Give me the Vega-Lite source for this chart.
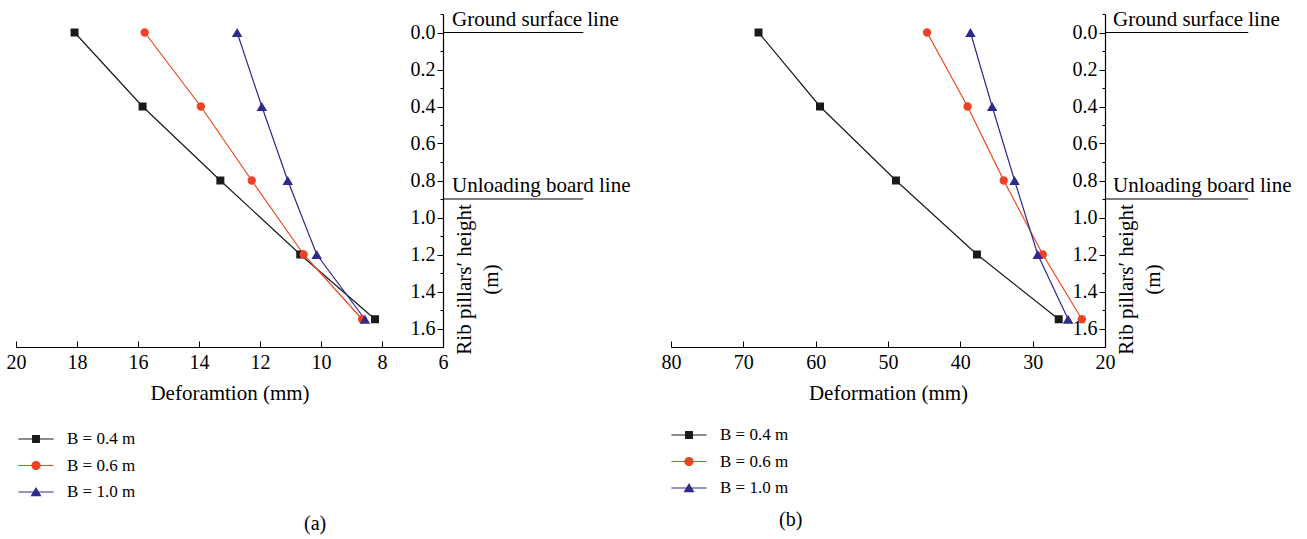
{
  "$schema": "https://vega.github.io/schema/vega-lite/v6.json",
  "padding": {"left": 6, "top": 8, "right": 5, "bottom": 5},
  "bounds": "flush",
  "spacing": 228,
  "background": "white",
  "datasets": {
    "a": [
      {"series": "B = 0.4 m", "d": 18.08, "h": 0},
      {"series": "B = 0.4 m", "d": 15.85, "h": 0.4},
      {"series": "B = 0.4 m", "d": 13.3, "h": 0.8},
      {"series": "B = 0.4 m", "d": 10.68, "h": 1.2},
      {"series": "B = 0.4 m", "d": 8.23, "h": 1.55},
      {"series": "B = 0.6 m", "d": 15.78, "h": 0},
      {"series": "B = 0.6 m", "d": 13.94, "h": 0.4},
      {"series": "B = 0.6 m", "d": 12.27, "h": 0.8},
      {"series": "B = 0.6 m", "d": 10.57, "h": 1.2},
      {"series": "B = 0.6 m", "d": 8.65, "h": 1.55},
      {"series": "B = 1.0 m", "d": 12.75, "h": 0},
      {"series": "B = 1.0 m", "d": 11.94, "h": 0.4},
      {"series": "B = 1.0 m", "d": 11.09, "h": 0.8},
      {"series": "B = 1.0 m", "d": 10.14, "h": 1.2},
      {"series": "B = 1.0 m", "d": 8.56, "h": 1.55}
    ],
    "b": [
      {"series": "B = 0.4 m", "d": 67.9, "h": 0},
      {"series": "B = 0.4 m", "d": 59.4, "h": 0.4},
      {"series": "B = 0.4 m", "d": 48.9, "h": 0.8},
      {"series": "B = 0.4 m", "d": 37.7, "h": 1.2},
      {"series": "B = 0.4 m", "d": 26.4, "h": 1.55},
      {"series": "B = 0.6 m", "d": 44.6, "h": 0},
      {"series": "B = 0.6 m", "d": 39.0, "h": 0.4},
      {"series": "B = 0.6 m", "d": 34.0, "h": 0.8},
      {"series": "B = 0.6 m", "d": 28.6, "h": 1.2},
      {"series": "B = 0.6 m", "d": 23.2, "h": 1.55},
      {"series": "B = 1.0 m", "d": 38.6, "h": 0},
      {"series": "B = 1.0 m", "d": 35.6, "h": 0.4},
      {"series": "B = 1.0 m", "d": 32.5, "h": 0.8},
      {"series": "B = 1.0 m", "d": 29.3, "h": 1.2},
      {"series": "B = 1.0 m", "d": 25.1, "h": 1.55}
    ],
    "refs": [
      {"label": "Ground surface line", "h": 0},
      {"label": "Unloading board line", "h": 0.9}
    ]
  },
  "resolve": {
    "scale": {"color": "independent", "shape": "independent"},
    "legend": {"color": "independent", "shape": "independent"}
  },
  "hconcat": [
    {
      "width": 427,
      "height": 333,
      "title": {"text": "(a)", "orient": "bottom", "anchor": "start", "dx": 298, "offset": 14, "font": "Liberation Serif", "fontSize": 20, "fontWeight": "normal", "color": "black"},
      "encoding": {
        "y": {
          "field": "h", "type": "quantitative",
          "scale": {"domain": [-0.1, 1.7], "reverse": true, "nice": false, "zero": false},
          "axis": {
            "orient": "left", "offset": -427,
            "values": [-0.1, 0, 0.1, 0.2, 0.3, 0.4, 0.5, 0.6, 0.7, 0.8, 0.9, 1.0, 1.1, 1.2, 1.3, 1.4, 1.5, 1.6, 1.7],
            "labelExpr": "(round(datum.value*10) % 2 === 0 && datum.value >= 0 && datum.value < 1.65) ? format(datum.value, '.1f') : ''",
            "tickSize": {"condition": {"test": "round(datum.value*10) % 2 === 0", "value": 6}, "value": 3},
            "title": ["Rib pillars\u2032 height", "(m)"],
            "titleAngle": 270, "titleX": 21, "titleY": 265, "titleAlign": "center", "titleBaseline": "middle", "titleLineHeight": 27
          }
        }
      },
      "layer": [
        {
          "data": {"name": "a"},
          "mark": {"type": "line", "strokeWidth": 1.2},
          "encoding": {
            "x": {
              "field": "d", "type": "quantitative",
              "scale": {"domain": [6, 20], "reverse": true, "nice": false, "zero": false},
              "axis": {
                "values": [6, 7, 8, 9, 10, 11, 12, 13, 14, 15, 16, 17, 18, 19, 20],
                "labelExpr": "datum.value % 2 === 0 ? datum.label : ''",
                "labelFlush": false,
                "tickSize": {"condition": {"test": "datum.value % 2 === 0", "value": -6}, "value": -3},
                "labelPadding": 11,
                "title": "Deforamtion (mm)", "titlePadding": 10
              }
            },
            "order": {"field": "h"},
            "color": {
              "field": "series", "type": "nominal",
              "scale": {"domain": ["B = 0.4 m", "B = 0.6 m", "B = 1.0 m"], "range": ["#1a1a1a", "#ef4224", "#2e2a8e"]},
              "legend": {
                "title": null, "orient": "none", "legendX": 9, "legendY": 414, "padding": 0,
                "symbolSize": 484, "symbolOpacity": 1, "symbolStrokeWidth": 0, "labelOffset": 20, "rowPadding": 7.5,
                "labelFont": "Liberation Serif", "labelFontSize": 17, "labelColor": "black"
              }
            }
          }
        },
        {
          "data": {"name": "a"},
          "mark": {"type": "point", "filled": true, "opacity": 0},
          "encoding": {
            "x": {"field": "d", "type": "quantitative"},
            "color": {
              "field": "series", "type": "nominal",
              "legend": {
                "title": null, "orient": "none", "legendX": 9, "legendY": 414, "padding": 0,
                "symbolSize": 484, "symbolOpacity": 1, "symbolStrokeWidth": 0, "labelOffset": 20, "rowPadding": 7.5,
                "labelFont": "Liberation Serif", "labelFontSize": 17, "labelColor": "black"
              }
            },
            "shape": {
              "field": "series", "type": "nominal",
              "scale": {"domain": ["B = 0.4 m", "B = 0.6 m", "B = 1.0 m"], "range": [
                "M-1.6,-0.055L1.6,-0.055L1.6,0.055L-1.6,0.055Z M-0.36,-0.36L0.36,-0.36L0.36,0.36L-0.36,0.36Z",
                "M-1.6,-0.055L1.6,-0.055L1.6,0.055L-1.6,0.055Z M-0.42,0A0.42,0.42 0 1,1 0.42,0A0.42,0.42 0 1,1 -0.42,0Z",
                "M-1.6,-0.055L1.6,-0.055L1.6,0.055L-1.6,0.055Z M0,-0.45L0.5,0.38L-0.5,0.38Z"
              ]},
              "legend": {
                "title": null, "orient": "none", "legendX": 9, "legendY": 414, "padding": 0,
                "symbolSize": 484, "symbolOpacity": 1, "symbolStrokeWidth": 0, "labelOffset": 20, "rowPadding": 7.5,
                "labelFont": "Liberation Serif", "labelFontSize": 17, "labelColor": "black"
              }
            }
          }
        },
        {
          "data": {"name": "a"},
          "transform": [{"filter": "datum.series === 'B = 0.4 m'"}],
          "mark": {"type": "point", "shape": "square", "filled": true, "opacity": 1, "size": 64, "color": "#1a1a1a"},
          "encoding": {"x": {"field": "d", "type": "quantitative"}}
        },
        {
          "data": {"name": "a"},
          "transform": [{"filter": "datum.series === 'B = 0.6 m'"}],
          "mark": {"type": "point", "shape": "circle", "filled": true, "opacity": 1, "size": 70, "color": "#ef4224"},
          "encoding": {"x": {"field": "d", "type": "quantitative"}}
        },
        {
          "data": {"name": "a"},
          "transform": [{"filter": "datum.series === 'B = 1.0 m'"}],
          "mark": {"type": "point", "shape": "triangle-up", "filled": true, "opacity": 1, "size": 110, "color": "#2e2a8e"},
          "encoding": {"x": {"field": "d", "type": "quantitative"}}
        },
        {
          "data": {"name": "refs"},
          "mark": {"type": "rule", "color": "black", "strokeWidth": 1.2},
          "encoding": {
            "x": {"datum": 6},
            "x2": {"datum": 1.4}
          }
        },
        {
          "data": {"name": "refs"},
          "mark": {"type": "text", "align": "left", "baseline": "alphabetic", "dx": 9, "dy": -7, "font": "Liberation Serif", "fontSize": 21, "color": "black"},
          "encoding": {
            "x": {"datum": 6},
            "text": {"field": "label"}
          }
        }
      ]
    },
    {
      "width": 434,
      "height": 333,
      "title": {"text": "(b)", "orient": "bottom", "anchor": "start", "dx": 118, "offset": 14, "font": "Liberation Serif", "fontSize": 20, "fontWeight": "normal", "color": "black"},
      "encoding": {
        "y": {
          "field": "h", "type": "quantitative",
          "scale": {"domain": [-0.1, 1.7], "reverse": true, "nice": false, "zero": false},
          "axis": {
            "orient": "left", "offset": -434,
            "values": [-0.1, 0, 0.1, 0.2, 0.3, 0.4, 0.5, 0.6, 0.7, 0.8, 0.9, 1.0, 1.1, 1.2, 1.3, 1.4, 1.5, 1.6, 1.7],
            "labelExpr": "(round(datum.value*10) % 2 === 0 && datum.value >= 0 && datum.value < 1.65) ? format(datum.value, '.1f') : ''",
            "tickSize": {"condition": {"test": "round(datum.value*10) % 2 === 0", "value": 6}, "value": 3},
            "title": ["Rib pillars\u2032 height", "(m)"],
            "titleAngle": 270, "titleX": 21, "titleY": 265, "titleAlign": "center", "titleBaseline": "middle", "titleLineHeight": 27
          }
        }
      },
      "layer": [
        {
          "data": {"name": "b"},
          "mark": {"type": "line", "strokeWidth": 1.2},
          "encoding": {
            "x": {
              "field": "d", "type": "quantitative",
              "scale": {"domain": [20, 80], "reverse": true, "nice": false, "zero": false},
              "axis": {
                "values": [20, 25, 30, 35, 40, 45, 50, 55, 60, 65, 70, 75, 80],
                "labelExpr": "datum.value % 10 === 0 ? datum.label : ''",
                "labelFlush": false,
                "tickSize": {"condition": {"test": "datum.value % 10 === 0", "value": -6}, "value": -3},
                "labelPadding": 11,
                "title": "Deformation (mm)", "titlePadding": 10
              }
            },
            "order": {"field": "h"},
            "color": {
              "field": "series", "type": "nominal",
              "scale": {"domain": ["B = 0.4 m", "B = 0.6 m", "B = 1.0 m"], "range": ["#1a1a1a", "#ef4224", "#2e2a8e"]},
              "legend": {
                "title": null, "orient": "none", "legendX": 7, "legendY": 410, "padding": 0,
                "symbolSize": 484, "symbolOpacity": 1, "symbolStrokeWidth": 0, "labelOffset": 20, "rowPadding": 7.5,
                "labelFont": "Liberation Serif", "labelFontSize": 17, "labelColor": "black"
              }
            }
          }
        },
        {
          "data": {"name": "b"},
          "mark": {"type": "point", "filled": true, "opacity": 0},
          "encoding": {
            "x": {"field": "d", "type": "quantitative"},
            "color": {
              "field": "series", "type": "nominal",
              "legend": {
                "title": null, "orient": "none", "legendX": 7, "legendY": 410, "padding": 0,
                "symbolSize": 484, "symbolOpacity": 1, "symbolStrokeWidth": 0, "labelOffset": 20, "rowPadding": 7.5,
                "labelFont": "Liberation Serif", "labelFontSize": 17, "labelColor": "black"
              }
            },
            "shape": {
              "field": "series", "type": "nominal",
              "scale": {"domain": ["B = 0.4 m", "B = 0.6 m", "B = 1.0 m"], "range": [
                "M-1.6,-0.055L1.6,-0.055L1.6,0.055L-1.6,0.055Z M-0.36,-0.36L0.36,-0.36L0.36,0.36L-0.36,0.36Z",
                "M-1.6,-0.055L1.6,-0.055L1.6,0.055L-1.6,0.055Z M-0.42,0A0.42,0.42 0 1,1 0.42,0A0.42,0.42 0 1,1 -0.42,0Z",
                "M-1.6,-0.055L1.6,-0.055L1.6,0.055L-1.6,0.055Z M0,-0.45L0.5,0.38L-0.5,0.38Z"
              ]},
              "legend": {
                "title": null, "orient": "none", "legendX": 7, "legendY": 410, "padding": 0,
                "symbolSize": 484, "symbolOpacity": 1, "symbolStrokeWidth": 0, "labelOffset": 20, "rowPadding": 7.5,
                "labelFont": "Liberation Serif", "labelFontSize": 17, "labelColor": "black"
              }
            }
          }
        },
        {
          "data": {"name": "b"},
          "transform": [{"filter": "datum.series === 'B = 0.4 m'"}],
          "mark": {"type": "point", "shape": "square", "filled": true, "opacity": 1, "size": 64, "color": "#1a1a1a"},
          "encoding": {"x": {"field": "d", "type": "quantitative"}}
        },
        {
          "data": {"name": "b"},
          "transform": [{"filter": "datum.series === 'B = 0.6 m'"}],
          "mark": {"type": "point", "shape": "circle", "filled": true, "opacity": 1, "size": 70, "color": "#ef4224"},
          "encoding": {"x": {"field": "d", "type": "quantitative"}}
        },
        {
          "data": {"name": "b"},
          "transform": [{"filter": "datum.series === 'B = 1.0 m'"}],
          "mark": {"type": "point", "shape": "triangle-up", "filled": true, "opacity": 1, "size": 110, "color": "#2e2a8e"},
          "encoding": {"x": {"field": "d", "type": "quantitative"}}
        },
        {
          "data": {"name": "refs"},
          "mark": {"type": "rule", "color": "black", "strokeWidth": 1.2},
          "encoding": {
            "x": {"datum": 20},
            "x2": {"datum": 0.2}
          }
        },
        {
          "data": {"name": "refs"},
          "mark": {"type": "text", "align": "left", "baseline": "alphabetic", "dx": 8, "dy": -7, "font": "Liberation Serif", "fontSize": 21, "color": "black"},
          "encoding": {
            "x": {"datum": 20},
            "text": {"field": "label"}
          }
        }
      ]
    }
  ],
  "config": {
    "view": {"stroke": null},
    "axis": {
      "grid": false,
      "domainColor": "black", "domainWidth": 1.2,
      "tickColor": "black", "tickWidth": 1,
      "labelColor": "black", "labelFont": "Liberation Serif", "labelFontSize": 20,
      "titleColor": "black", "titleFont": "Liberation Serif", "titleFontSize": 21, "titleFontWeight": "normal"
    }
  }
}
